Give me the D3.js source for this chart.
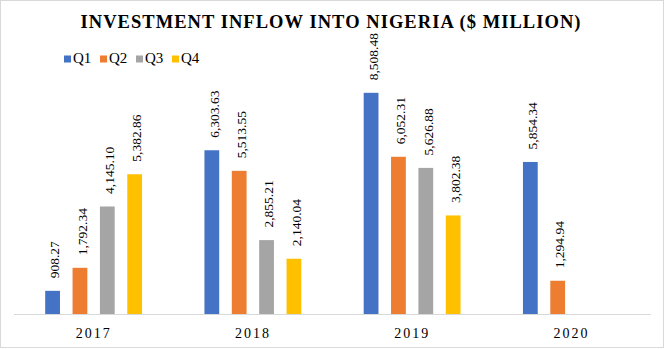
<!DOCTYPE html>
<html>
<head>
<meta charset="utf-8">
<script src="https://cdn.jsdelivr.net/npm/d3@7"></script>
<style>
  body { margin: 0; background: #fff; }
  text { font-family: "Liberation Serif", "Times New Roman", serif; }
</style>
</head>
<body>
<div id="chart"></div>
<script>
// chart data
var years = ["2017", "2018", "2019", "2020"];
var quarters = ["Q1", "Q2", "Q3", "Q4"];
var q1 = [908.27, 6303.63, 8508.48, 5854.34];
var q2 = [1792.34, 5513.55, 6052.31, 1294.94];
var q3 = [4145.10, 2855.21, 5626.88, null];
var q4 = [5382.86, 2140.04, 3802.38, null];
var yTicks = [0, 9000];

var colors = ["#4472c4", "#ed7d31", "#a5a5a5", "#ffc000"];

const width = 665,
    height = 349,
    plotLeft = 14,
    plotRight = 651,
    baseY = 314.5,
    topY = 80;

var series = [q1, q2, q3, q4];
var rows = [];
years.forEach(function(y, i) {
    quarters.forEach(function(q, j) {
        if (series[j][i] != null) rows.push({year: y, q: q, k: j, v: series[j][i]});
    });
});

var svg = d3.select("#chart").append("svg")
    .attr("width", width)
    .attr("height", height);

// outer border
svg.append("rect")
    .attr("x", 0.5).attr("y", 0.5)
    .attr("width", 663).attr("height", 347)
    .attr("fill", "#fff")
    .attr("stroke", "#d9d9d9");

var x0 = d3.scaleBand().domain(years).range([plotLeft, plotRight]);
var x1 = d3.scaleBand().domain(quarters).range([0, x0.bandwidth()])
    .paddingInner(0.46).paddingOuter(1.14);
var y = d3.scaleLinear().domain(yTicks).range([baseY, topY]);

// title
svg.append("text")
    .attr("x", 331).attr("y", 28)
    .attr("text-anchor", "middle")
    .attr("font-size", 18.5)
    .attr("font-weight", "bold")
    .attr("letter-spacing", 1.05)
    .text("INVESTMENT INFLOW INTO NIGERIA ($ MILLION)");

// legend
var leg = svg.append("g").selectAll("g")
    .data(quarters)
    .enter().append("g")
    .attr("transform", function(d, i) { return "translate(" + (64 + i * 36) + ",0)"; });
leg.append("rect")
    .attr("x", 0).attr("y", 55.5)
    .attr("width", 7).attr("height", 7)
    .attr("fill", function(d, i) { return colors[i]; });
leg.append("text")
    .attr("x", 9).attr("y", 63)
    .attr("font-size", 15)
    .text(function(d) { return d; });

// bars
svg.append("g").selectAll("rect")
    .data(rows)
    .enter().append("rect")
    .attr("x", function(d) { return x0(d.year) + x1(d.q); })
    .attr("y", function(d) { return y(d.v); })
    .attr("width", x1.bandwidth())
    .attr("height", function(d) { return baseY - y(d.v); })
    .attr("fill", function(d) { return colors[d.k]; });

// value labels
var fmt = d3.format(",.2f");
svg.append("g").selectAll("text")
    .data(rows)
    .enter().append("text")
    .attr("transform", function(d) {
        var cx = x0(d.year) + x1(d.q) + x1.bandwidth() / 2 + 2;
        return "translate(" + cx + "," + (y(d.v) - 12.5) + ") rotate(-90)";
    })
    .attr("dy", "0.35em")
    .attr("font-size", 13.5)
    .text(function(d) { return fmt(d.v); });

// x axis
var xAxis = svg.append("g")
    .attr("transform", "translate(0," + baseY + ")")
    .call(d3.axisBottom(x0).tickSize(0).tickPadding(0));
xAxis.select(".domain").attr("stroke", "#d9d9d9").attr("d", "M" + plotLeft + ",0H" + plotRight);
xAxis.selectAll("text")
    .attr("y", 23)
    .attr("dy", 0)
    .attr("font-size", 14)
    .attr("letter-spacing", 2)
    .attr("fill", "#000")
    .style("font-family", "'Liberation Serif', serif");
</script>
</body>
</html>
